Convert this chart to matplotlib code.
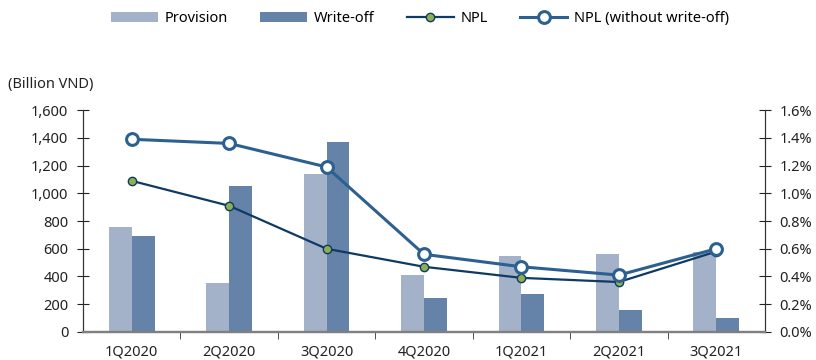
import numpy as np
import matplotlib.pyplot as plt
from matplotlib.ticker import FuncFormatter, FixedLocator

plt.rcParams['font.family'] = ['Noto Sans', 'DejaVu Sans']

# Data
quarters = ["1Q2020", "2Q2020", "3Q2020", "4Q2020", "1Q2021", "2Q2021", "3Q2021"]
provision = [760, 350, 1140, 410, 545, 565, 575]
write_off = [695, 1050, 1370, 245, 270, 160, 100]
npl = [1.09, 0.91, 0.60, 0.47, 0.39, 0.36, 0.58]
npl_without_wo = [1.39, 1.36, 1.19, 0.56, 0.47, 0.41, 0.60]

c_prov = "#A3B1C9"
c_wo = "#6583A8"
c_npl = "#0F3A64"
c_npl2 = "#2C6090"

fig = plt.figure(figsize=(8.16, 3.6), dpi=100)
ax = fig.add_axes([0.1017, 0.078, 0.8358, 0.616])
ax2 = ax.twinx()

x = np.arange(len(quarters))
w = 0.235
b1 = ax.bar(x - w / 2, provision, w, color=c_prov, label="Provision", zorder=2)
b2 = ax.bar(x + w / 2, write_off, w, color=c_wo, label="Write-off", zorder=2)

l1, = ax2.plot(x, npl, color=c_npl, lw=1.6, marker="o", ms=6,
               mfc="#8DB04F", mec=c_npl, mew=1, label="NPL", zorder=3)
l2, = ax2.plot(x, npl_without_wo, color=c_npl2, lw=2.2, marker="o", ms=8.5,
               mfc="white", mec=c_npl2, mew=2.2, label="NPL (without write-off)", zorder=4)

ax.set_xlim(-0.5, len(quarters) - 0.5)
ax.set_ylim(0, 1600)
ax2.set_ylim(0, 1.6)
ax.set_yticks(np.arange(0, 1601, 200))
ax2.set_yticks(np.arange(0, 1.61, 0.2))
ax.yaxis.set_major_formatter(FuncFormatter(lambda v, p: f"{v:,.0f}"))
ax2.yaxis.set_major_formatter(FuncFormatter(lambda v, p: f"{v:.1f}%"))

ax.set_xticks(x)
ax.set_xticklabels(quarters)
ax.xaxis.set_minor_locator(FixedLocator(np.arange(0.5, len(quarters) - 1, 1)))
ax.tick_params(axis="x", which="major", length=0, pad=9, labelsize=10.5, colors="#222222")
ax.tick_params(axis="x", which="minor", length=5, direction="out", color="#333333")
ax.tick_params(axis="y", direction="inout", length=9, labelsize=10.5, colors="#222222", pad=6)
ax2.tick_params(axis="y", direction="inout", length=9, labelsize=10.5, colors="#222222", pad=6)

for a in (ax, ax2):
    a.spines["top"].set_visible(False)
    a.spines["left"].set_color("#333333")
    a.spines["right"].set_color("#333333")
    a.spines["bottom"].set_color("#808080")
    a.spines["bottom"].set_linewidth(1.6)

fig.text(0.01, 0.765, "(Billion VND)", fontsize=10.5, color="#222222", va="center")

fig.legend(handles=[b1, b2, l1, l2], loc="center", bbox_to_anchor=(0.515, 0.948),
           ncol=4, frameon=False, fontsize=10.5, handlelength=3.2, columnspacing=2.2,
           handletextpad=0.5)

fig.savefig("out.png", dpi=100)
